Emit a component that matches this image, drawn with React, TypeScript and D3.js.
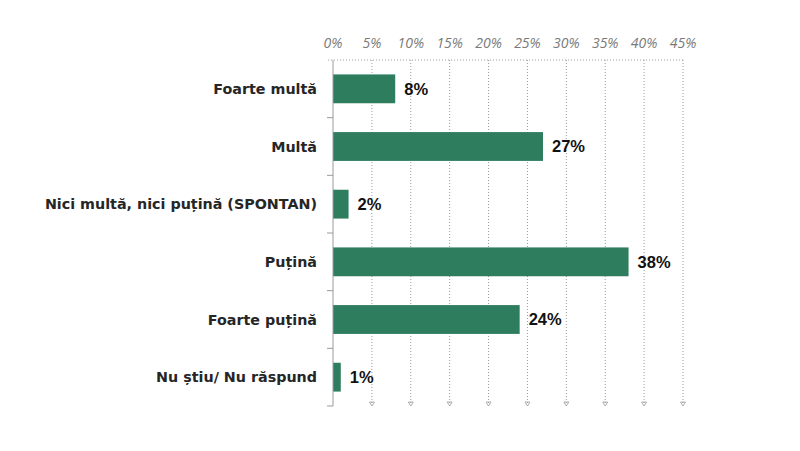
import React, { useRef, useEffect } from "react";
import * as d3 from "d3";

const categories = [
  "Foarte multă",
  "Multă",
  "Nici multă, nici puțină (SPONTAN)",
  "Puțină",
  "Foarte puțină",
  "Nu știu/ Nu răspund",
];
const values = [8, 27, 2, 38, 24, 1];
const ticks = [0, 5, 10, 15, 20, 25, 30, 35, 40, 45];

const W = 800;
const H = 451;

const App: React.FC = () => {
  const svgRef = useRef<SVGSVGElement>(null);

  useEffect(() => {
    if (!svgRef.current) return;
    const svg = d3.select(svgRef.current);
    svg.selectAll("*").remove();

    const x = d3.scaleLinear().domain([0, 45]).range([333, 683]);
    const y = d3.scaleBand().domain(categories).range([60, 406]).paddingInner(0.5).paddingOuter(0.25);
    const bandStep = y.step();

    // vertical dotted grid lines
    const grid = svg.append("g");
    ticks.slice(1).forEach((t) => {
      grid
        .append("line")
        .attr("x1", x(t))
        .attr("x2", x(t))
        .attr("y1", 60)
        .attr("y2", 404)
        .attr("stroke", "#9c9c9c")
        .attr("stroke-width", 1)
        .attr("stroke-dasharray", "1,2");
      grid
        .append("path")
        .attr("d", `M${x(t) - 2.5},${402} L${x(t) + 2.5},${402} L${x(t)},${406} Z`)
        .attr("fill", "none")
        .attr("stroke", "#9c9c9c")
        .attr("stroke-width", 0.8);
    });

    // top dotted line
    svg
      .append("line")
      .attr("x1", 328)
      .attr("x2", 684)
      .attr("y1", 60)
      .attr("y2", 60)
      .attr("stroke", "#9c9c9c")
      .attr("stroke-dasharray", "1,2");

    // tick labels on top
    svg
      .append("g")
      .selectAll("text")
      .data(ticks)
      .join("text")
      .attr("x", (d) => x(d))
      .attr("y", 47.5)
      .attr("text-anchor", "middle")
      .attr("font-family", "'Open Sans', sans-serif")
      .attr("font-style", "italic")
      .attr("font-size", 14)
      .attr("fill", "#7a7a7a")
      .text((d) => `${d}%`);

    // bars
    svg
      .append("g")
      .selectAll("rect")
      .data(values)
      .join("rect")
      .attr("x", x(0))
      .attr("y", (_, i) => y(categories[i]) as number)
      .attr("width", (d) => x(d) - x(0))
      .attr("height", y.bandwidth())
      .attr("fill", "#2e7d5e");

    // left axis line + ticks
    svg
      .append("line")
      .attr("x1", x(0))
      .attr("x2", x(0))
      .attr("y1", 60)
      .attr("y2", 406)
      .attr("stroke", "#9a9a9a")
      .attr("stroke-width", 1);
    d3.range(1, categories.length + 1).forEach((i) => {
      svg
        .append("line")
        .attr("x1", x(0) - 6)
        .attr("x2", x(0))
        .attr("y1", 60 + i * bandStep)
        .attr("y2", 60 + i * bandStep)
        .attr("stroke", "#9a9a9a");
    });

    // category labels
    svg
      .append("g")
      .selectAll("text")
      .data(categories)
      .join("text")
      .attr("x", 317)
      .attr("y", (d) => (y(d) as number) + y.bandwidth() / 2)
      .attr("dy", "0.35em")
      .attr("text-anchor", "end")
      .attr("font-family", "'DejaVu Sans', sans-serif")
      .attr("font-weight", "bold")
      .attr("font-size", 14.3)
      .attr("fill", "#262626")
      .text((d) => d);

    // value labels
    svg
      .append("g")
      .selectAll("text")
      .data(values)
      .join("text")
      .attr("x", (d) => x(d) + 9)
      .attr("y", (_, i) => (y(categories[i]) as number) + y.bandwidth() / 2)
      .attr("dy", "0.36em")
      .attr("font-family", "'Liberation Sans', Arial, sans-serif")
      .attr("font-weight", "bold")
      .attr("font-size", 16.5)
      .attr("fill", "#111")
      .text((d) => `${d}%`);
  }, []);

  return (
    <svg
      ref={svgRef}
      width={W}
      height={H}
      style={{ position: "absolute", left: 0, top: 0, background: "#fff" }}
    />
  );
};

export default App;
